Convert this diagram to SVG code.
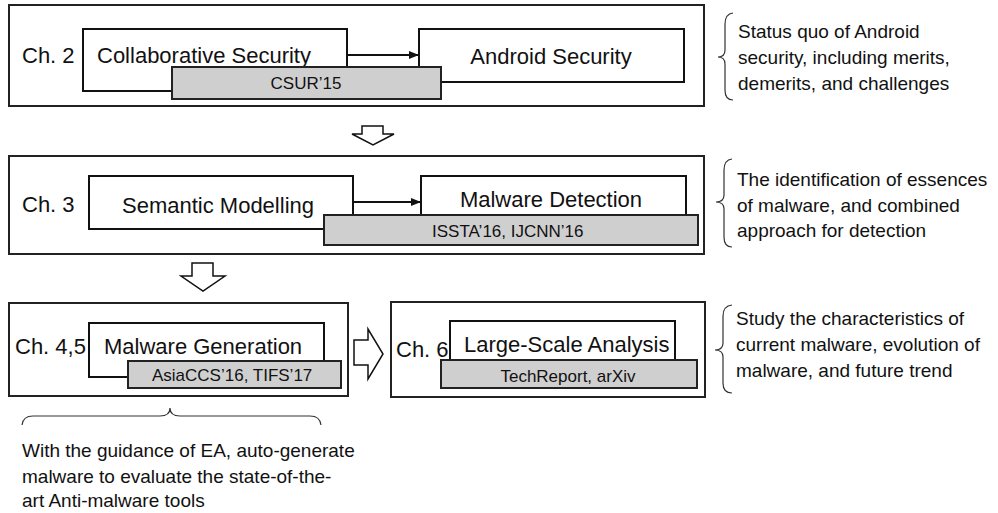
<svg xmlns="http://www.w3.org/2000/svg" width="998" height="513" viewBox="0 0 998 513">
<defs>
<marker id="ah" markerWidth="10" markerHeight="8" refX="10" refY="4" orient="auto" markerUnits="userSpaceOnUse">
<path d="M0,0 L10,4 L0,8 Z" fill="#111"/>
</marker>
<style>
.outer{fill:#fff;stroke:#222;stroke-width:2}
.box{fill:#fff;stroke:#111;stroke-width:2}
.pub{fill:#d0cfcf;stroke:#222;stroke-width:2}
.blk{fill:#fff;stroke:#111;stroke-width:1.5;stroke-linejoin:miter}
.brace{fill:none;stroke:#333;stroke-width:1.2}
.conn{stroke:#111;stroke-width:2;fill:none}
text{font-family:"Liberation Sans",Arial,sans-serif;fill:#111}
.big{font-size:22px}
.mid{font-size:17px}
.note{font-size:19px}
</style>
</defs>
<rect width="998" height="513" fill="#fff"/>

<g id="ch2">
<rect class="outer" x="9" y="5" width="695" height="101"/>
<text class="big" x="22" y="63">Ch. 2</text>
</g>
<g id="collab">
<rect class="box" x="83" y="29" width="264" height="62"/>
<text class="big" x="97" y="63">Collaborative Security</text>
</g>
<g id="android">
<rect class="box" x="419" y="29" width="265" height="53"/>
<text class="big" x="551" y="64" text-anchor="middle">Android Security</text>
</g>
<g id="csur">
<rect class="pub" x="172" y="67" width="269" height="32"/>
<text class="mid" x="306" y="89" text-anchor="middle">CSUR’15</text>
</g>

<g id="ch3">
<rect class="outer" x="9" y="156" width="695" height="98"/>
<text class="big" x="22" y="212">Ch. 3</text>
</g>
<g id="semantic">
<rect class="box" x="89" y="176" width="264" height="53"/>
<text class="big" x="122" y="213">Semantic Modelling</text>
</g>
<g id="detection">
<rect class="box" x="421" y="176" width="265" height="42"/>
<text class="big" x="551" y="207" text-anchor="middle">Malware Detection</text>
</g>
<g id="issta">
<rect class="pub" x="324" y="215" width="374" height="30"/>
<text class="mid" x="432" y="237">ISSTA’16, IJCNN’16</text>
</g>

<g id="ch45">
<rect class="outer" x="9" y="303" width="339" height="93"/>
<text class="big" x="15" y="354">Ch. 4,5</text>
</g>
<g id="generation">
<rect class="box" x="89" y="323" width="235" height="54"/>
<text class="big" x="104" y="354">Malware Generation</text>
</g>
<g id="asiaccs">
<rect class="pub" x="128" y="361" width="213" height="27"/>
<text class="mid" x="152" y="381">AsiaCCS’16, TIFS’17</text>
</g>

<g id="ch6">
<rect class="outer" x="391" y="302" width="314" height="95"/>
<text class="big" x="396" y="357">Ch. 6</text>
</g>
<g id="largescale">
<rect class="box" x="450" y="321" width="225" height="39"/>
<text class="big" x="464" y="352">Large-Scale Analysis</text>
</g>
<g id="techreport">
<rect class="pub" x="441" y="360" width="256" height="28"/>
<text class="mid" x="568" y="382" text-anchor="middle">TechReport, arXiv</text>
</g>

<g id="connectors">
<line class="conn" x1="347" y1="55" x2="419" y2="55" marker-end="url(#ah)"/>
<line class="conn" x1="353" y1="202" x2="421" y2="202" marker-end="url(#ah)"/>
<path class="blk" d="M362,126 L383,126 L383,134 L394,134 L373,145 L352,134 L362,134 Z"/>
<path class="blk" d="M192,263 L213,263 L213,276 L225,276 L203,291 L181,276 L192,276 Z"/>
<path class="blk" d="M354,340 L368,340 L368,329 L383,354 L368,379 L368,365 L354,365 Z"/>
</g>

<g id="note1">
<path class="brace" d="M733,13 Q725,14 725,24 L725,50 Q725,57 718,57 Q725,57 725,64 L725,90 Q725,100 733,100"/>
<text class="note" x="738" y="38">Status quo of Android</text>
<text class="note" x="738" y="64">security, including merits,</text>
<text class="note" x="738" y="90">demerits, and challenges</text>
</g>
<g id="note2">
<path class="brace" d="M732,159 Q724,160 724,170 L724,195 Q724,202 716,202 Q724,202 724,209 L724,237 Q724,247 732,247"/>
<text class="note" x="737" y="186">The identification of essences</text>
<text class="note" x="737" y="212">of malware, and combined</text>
<text class="note" x="737" y="237">approach for detection</text>
</g>
<g id="note3">
<path class="brace" d="M732,305 Q723,306 723,316 L723,343 Q723,350 715,350 Q723,350 723,357 L723,383 Q723,393 732,393"/>
<text class="note" x="736" y="325">Study the characteristics of</text>
<text class="note" x="736" y="351">current malware, evolution of</text>
<text class="note" x="736" y="377">malware, and future trend</text>
</g>
<g id="note4">
<path class="brace" d="M22,425 Q23,416 33,416 L160,416 Q170,416 170,408 Q170,416 180,416 L310,416 Q320,416 321,425"/>
<text class="note" x="22" y="457">With the guidance of EA, auto-generate</text>
<text class="note" x="22" y="483">malware to evaluate the state-of-the-</text>
<text class="note" x="22" y="507">art Anti-malware tools</text>
</g>
</svg>
